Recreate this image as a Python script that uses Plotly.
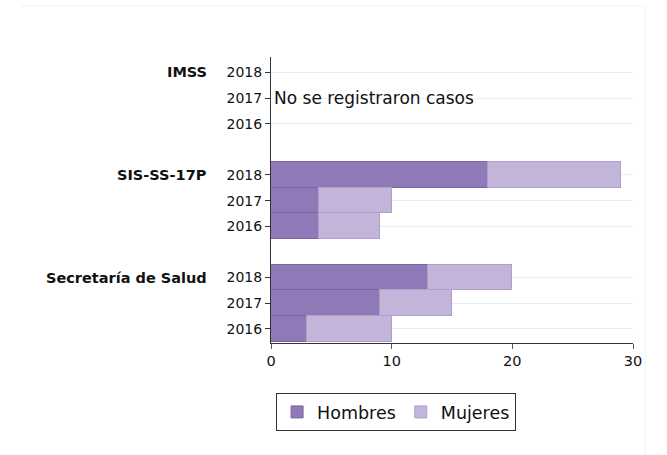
import plotly.graph_objects as go

# Data
groups = ["Secretaría de Salud", "SIS-SS-17P", "IMSS"]
years = ["2016", "2017", "2018"]
hombres = {
    "Secretaría de Salud": [3, 9, 13],
    "SIS-SS-17P": [4, 4, 18],
    "IMSS": [0, 0, 0],
}
mujeres = {
    "Secretaría de Salud": [7, 6, 7],
    "SIS-SS-17P": [5, 6, 11],
    "IMSS": [0, 0, 0],
}
x_ticks = [0, 10, 20, 30]

# positions: each group 3 rows, 1 blank row between groups
pos, labels, h_vals, m_vals = [], [], [], []
group_top = {}
for gi, g in enumerate(groups):
    for yi, yr in enumerate(years):
        p = gi * 4 + yi
        pos.append(p)
        labels.append(yr)
        h_vals.append(hombres[g][yi])
        m_vals.append(mujeres[g][yi])
    group_top[g] = gi * 4 + 2

font = "DejaVu Sans"
fig = go.Figure()
fig.add_trace(go.Bar(
    y=pos, x=h_vals, orientation="h", name="Hombres", width=1,
    marker=dict(color="#8f79b6", line=dict(color="#7a63a6", width=1)),
))
fig.add_trace(go.Bar(
    y=pos, x=m_vals, orientation="h", name="Mujeres", width=1,
    marker=dict(color="#c3b4da", line=dict(color="#b09ecd", width=1)),
))

for g in groups:
    fig.add_annotation(
        x=-0.17, xref="paper", y=group_top[g], yref="y",
        text=f"<b>{g}</b>", showarrow=False, xanchor="right", yanchor="middle",
        font=dict(family=font, size=14.5, color="#111"),
    )

fig.add_annotation(
    x=0.12, xref="x", y=group_top["IMSS"] - 1, yref="y",
    text="No se registraron casos", showarrow=False, xanchor="left", yanchor="middle",
    font=dict(family=font, size=17, color="#111"),
)

# faint outer frame
fig.add_shape(type="line", xref="paper", yref="paper", x0=-0.69, x1=1.033, y0=1.178, y1=1.178,
              line=dict(color="#eef2f2", width=1))
fig.add_shape(type="line", xref="paper", yref="paper", x0=1.033, x1=1.033, y0=1.178, y1=-0.4,
              line=dict(color="#eef2f2", width=1))

fig.update_layout(
    barmode="stack",
    width=667, height=455,
    margin=dict(l=271, r=34, t=57, b=112),
    plot_bgcolor="white", paper_bgcolor="white",
    font=dict(family=font, size=14, color="#111"),
    bargap=0,
    legend=dict(
        orientation="h", x=0.014, xanchor="left", y=-0.175, yanchor="top",
        bordercolor="#333", borderwidth=1, font=dict(family=font, size=17.5),
        itemwidth=30, traceorder="normal",
    ),
    showlegend=True,
)
fig.update_xaxes(
    range=[0, 30], tickvals=x_ticks, showgrid=False, showline=True,
    linecolor="#333", linewidth=1, ticks="outside", ticklen=5, tickcolor="#555",
    zeroline=False, tickfont=dict(size=14.5),
)
fig.update_yaxes(
    range=[-0.55, 10.6], tickvals=pos, ticktext=labels, showgrid=True,
    gridcolor="#e8eff0", gridwidth=1, showline=True, linecolor="#333", linewidth=1,
    ticks="outside", ticklen=5, tickcolor="#333", zeroline=False, tickfont=dict(size=14),
)

fig.write_html("out.html", config={"displayModeBar": False},
               post_script="document.body.style.margin='0';")
